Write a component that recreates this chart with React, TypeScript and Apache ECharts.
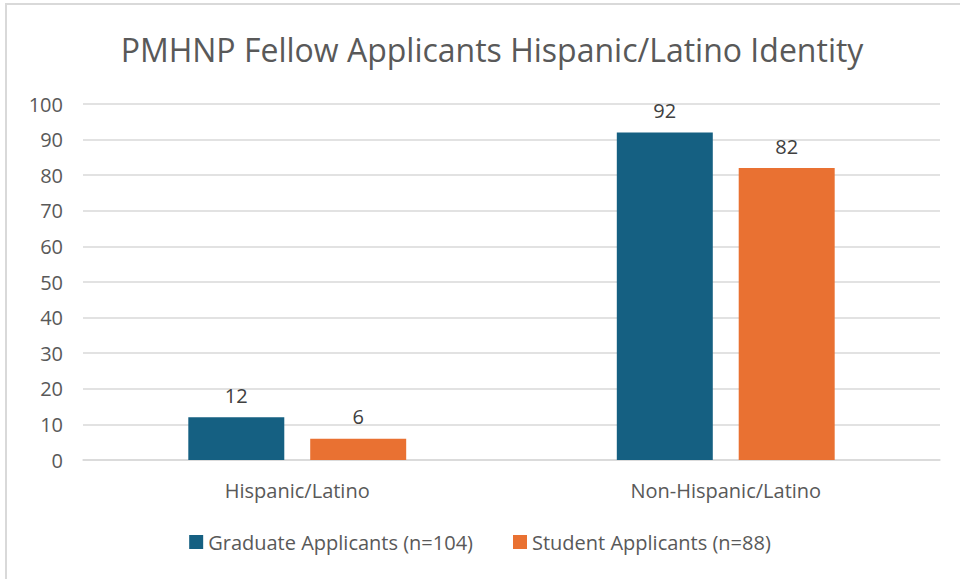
import React, { useEffect, useRef } from "react";
import * as echarts from "echarts";

const categories = ["Hispanic/Latino", "Non-Hispanic/Latino"];
const graduateValues = [12, 92];
const studentValues = [6, 82];
const seriesNames = ["Graduate Applicants (n=104)", "Student Applicants (n=88)"];
const titleText = "PMHNP Fellow Applicants Hispanic/Latino Identity";

export default function App() {
  const ref = useRef<HTMLDivElement>(null);
  useEffect(() => {
    if (!ref.current) return;
    const chart = echarts.init(ref.current, null, { renderer: "svg" });
    const font = "'Open Sans', 'Noto Sans', sans-serif";
    chart.setOption({
      animation: false,
      backgroundColor: "#ffffff",
      textStyle: { fontFamily: font },
      title: {
        text: titleText,
        left: 487,
        textAlign: "center",
        top: 28,
        textStyle: { fontSize: 32, fontWeight: "normal", color: "#595959", fontFamily: font },
      },
      graphic: [
        {
          type: "rect",
          shape: { x: 6, y: 4, width: 1000, height: 620 },
          style: { fill: "none", stroke: "#d9d9d9", lineWidth: 2 },
          silent: true,
        },
      ],
      legend: {
        data: seriesNames,
        bottom: 22,
        left: "center",
        itemWidth: 14,
        itemHeight: 14,
        itemGap: 40,
        icon: "rect",
        textStyle: { fontSize: 20, color: "#595959", fontFamily: font },
      },
      grid: { left: 83, right: 20, top: 104, bottom: 119, containLabel: false },
      xAxis: {
        type: "category",
        data: categories,
        axisLine: { show: true, lineStyle: { color: "#d9d9d9", width: 1.5 } },
        axisTick: { show: false },
        axisLabel: { fontSize: 20, color: "#595959", margin: 20, fontFamily: font },
      },
      yAxis: {
        type: "value",
        min: 0,
        max: 100,
        interval: 10,
        axisLine: { show: false },
        axisTick: { show: false },
        splitLine: { lineStyle: { color: "#d9d9d9", width: 1.5 } },
        axisLabel: { fontSize: 20, color: "#595959", margin: 20, fontFamily: font },
      },
      series: [
        {
          name: seriesNames[0],
          type: "bar",
          data: graduateValues,
          barWidth: "22.4%",
          barGap: "27%",
          itemStyle: { color: "#156082" },
          label: { show: true, position: "top", distance: 12, fontSize: 20, color: "#404040", fontFamily: font },
        },
        {
          name: seriesNames[1],
          type: "bar",
          data: studentValues,
          barWidth: "22.4%",
          barGap: "27%",
          itemStyle: { color: "#e97132" },
          label: { show: true, position: "top", distance: 12, fontSize: 20, color: "#404040", fontFamily: font },
        },
      ],
    });
    return () => chart.dispose();
  }, []);
  return (
    <div
      ref={ref}
      style={{ position: "absolute", left: 0, top: 0, width: 960, height: 579 }}
    />
  );
}
